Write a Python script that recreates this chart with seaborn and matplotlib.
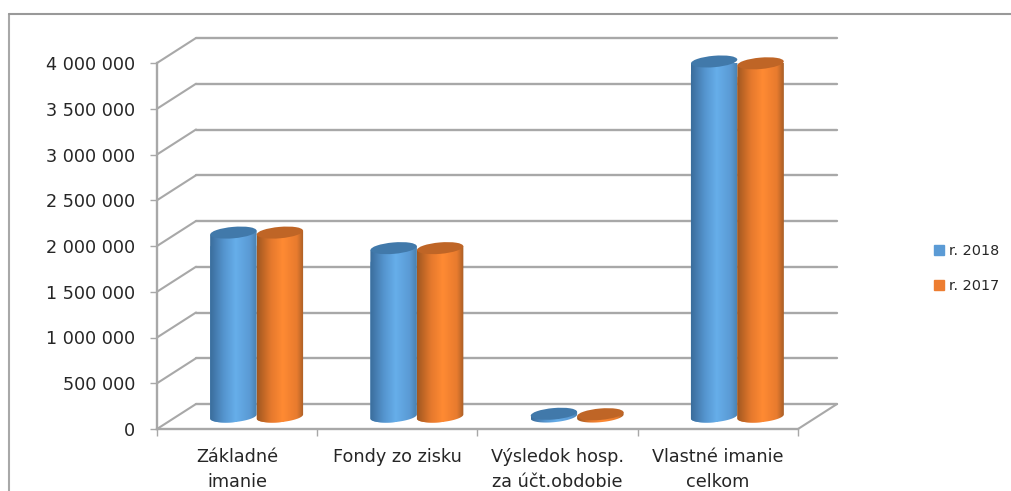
import numpy as np
import pandas as pd
import matplotlib
matplotlib.use("Agg")
import matplotlib.pyplot as plt
import seaborn as sns
from matplotlib.colors import LinearSegmentedColormap
from matplotlib.lines import Line2D
from matplotlib.patches import Ellipse, PathPatch
from matplotlib.path import Path
from matplotlib.transforms import Affine2D, IdentityTransform

categories = ["Základné\nimanie", "Fondy zo zisku", "Výsledok hosp.\nza účt.obdobie", "Vlastné imanie\ncelkom"]
series_names = ["r. 2018", "r. 2017"]
values_2018 = [2010000, 1840000, 30000, 3880000]
values_2017 = [2010000, 1840000, 25000, 3860000]
y_ticks = [0, 500000, 1000000, 1500000, 2000000, 2500000, 3000000, 3500000, 4000000]
y_labels = ["0", "500 000", "1 000 000", "1 500 000", "2 000 000", "2 500 000", "3 000 000", "3 500 000", "4 000 000"]

W, H = 1012, 491
GREY = "#a8a8a8"
TEXT = "#262626"
DEPTH_X, DEPTH_Y = 39, 25    # depth of the fake 3d box, px

sns.set_theme(style="white")
plt.rcParams["font.family"] = ["DejaVu Sans"]

df = pd.DataFrame({
    "cat": categories * 2,
    "year": [series_names[0]] * 4 + [series_names[1]] * 4,
    "value": values_2018 + values_2017,
})

fig = plt.figure(figsize=(W / 100, H / 100), dpi=100)
# axes = front plane of the box
ax = fig.add_axes([157 / W, 1 - 429 / H, (798 - 157) / W, (429 - 63) / H])
sns.barplot(data=df, x="cat", y="value", hue="year", hue_order=series_names,
            palette=["#5b9bd5", "#ed7d31"], width=0.58, gap=0, errorbar=None,
            saturation=1, ax=ax, legend=False)
ax.set_xlim(-0.5, 3.5)
ax.set_ylim(0, 4000000)
ax.set_xlabel("")
ax.set_ylabel("")
ax.set_yticks(y_ticks, y_labels)
ax.set_xticks([-0.5, 0.5, 1.5, 2.5, 3.5], minor=True)
ax.set_xticks(range(4), categories)
ax.tick_params(axis="x", which="major", length=0, pad=14, labelsize=12.7, labelcolor=TEXT)
ax.tick_params(axis="x", which="minor", length=5, width=1, color=GREY, bottom=True)
ax.tick_params(axis="y", length=5, width=1, color=GREY, left=True, pad=10.8, labelsize=12.7, labelcolor=TEXT)
for lab in ax.get_xticklabels():
    lab.set_linespacing(1.45)
sns.despine(ax=ax)
for s in ["left", "bottom"]:
    ax.spines[s].set_color(GREY)
    ax.spines[s].set_linewidth(1.7)

# wall and floor lines, going back from the front plane
back = ax.transData + Affine2D().translate(DEPTH_X, DEPTH_Y)
for v in y_ticks:
    p0 = ax.transData.transform((-0.5, v))
    ax.add_line(Line2D([p0[0], p0[0] + DEPTH_X], [p0[1], p0[1] + DEPTH_Y], color=GREY, lw=1.5,
                       transform=IdentityTransform(), clip_on=False, zorder=1))
    ax.plot([-0.5, 3.5], [v, v], color=GREY, lw=1.7, transform=back, clip_on=False, zorder=1)
p0 = ax.transData.transform((3.5, 0))
ax.add_line(Line2D([p0[0], p0[0] + DEPTH_X], [p0[1], p0[1] + DEPTH_Y], color=GREY, lw=1.5,
                   transform=IdentityTransform(), clip_on=False, zorder=1))

# cylinders on top of the seaborn bars
blue_cm = LinearSegmentedColormap.from_list("b", [(0, "#3a6c9b"), (0.3, "#5595cf"), (0.55, "#66aeea"), (0.85, "#5a9ad4"), (1, "#4a80ad")])
orange_cm = LinearSegmentedColormap.from_list("o", [(0, "#a05720"), (0.3, "#e5792d"), (0.55, "#ff8a33"), (0.85, "#e87b2e"), (1, "#a85e26")])
tops = {0: "#4179aa", 1: "#bf6526"}
ramp = np.linspace(0, 1, 256).reshape(1, -1)
mid = Affine2D().translate(DEPTH_X / 2, DEPTH_Y / 2)
TILT = 5.0
MINOR = 5.7
bars = [p for p in ax.patches if p.get_width() > 0]
for i, bar in enumerate(bars):
    s = 0 if i < 4 else 1
    x0, x1 = bar.get_x(), bar.get_x() + bar.get_width()
    (px0, py0), (px1, py1) = mid.transform(ax.transData.transform([(x0, 0), (x1, bar.get_height())]))
    cx = (px0 + px1) / 2
    rx = (px1 - px0) / 2
    dy = rx * np.tan(np.radians(TILT))
    # body: left side, bottom half ellipse, right side
    t = np.linspace(np.pi, 2 * np.pi, 40)
    lo_x = cx + rx * np.cos(t)
    lo_y = py0 + MINOR * np.sin(t) + dy * np.cos(t)
    verts = np.column_stack([np.r_[lo_x, px1, px0, lo_x[0]], np.r_[lo_y, py1 + dy, py1 - dy, lo_y[0]]])
    body = Path(verts)
    clip = PathPatch(body, transform=IdentityTransform())
    bar.set_zorder(3)
    bar.set_clip_path(clip)
    ext = ax.transData.inverted().transform([(px0, py0 - MINOR - dy - 2), (px1, py1 + dy + 2)])
    im = ax.imshow(ramp, cmap=blue_cm if s == 0 else orange_cm, aspect="auto", zorder=3 + s,
                   extent=(ext[0][0], ext[1][0], ext[0][1], ext[1][1]))
    im.set_clip_path(clip)
    top = Ellipse((cx, py1), 2 * rx, 2 * MINOR, angle=TILT, facecolor=tops[s], edgecolor="none",
                  transform=IdentityTransform(), clip_on=False, zorder=3.5 + s)
    ax.add_patch(top)
ax.set_xlim(-0.5, 3.5)
ax.set_ylim(0, 4000000)

# legend
handles = [plt.Rectangle((0, 0), 1, 1, color=c) for c in ["#5b9bd5", "#ed7d31"]]
fig.legend(handles, series_names, loc="center left", bbox_to_anchor=(927 / W, 1 - 268.5 / H), frameon=False,
           fontsize=10.4, labelcolor=TEXT, handlelength=0.65, handleheight=0.65, handletextpad=0.4,
           labelspacing=1.42, borderpad=0)

# chart frame, cut by the image edge
fig.add_artist(Line2D([9.5 / W, 9.5 / W], [0, 1 - 13.5 / H], color="#a8a8a8", lw=1.5))
fig.add_artist(Line2D([9.5 / W, 1], [1 - 13.5 / H, 1 - 13.5 / H], color="#999999", lw=1.5))

fig.savefig("out.png", dpi=100)
